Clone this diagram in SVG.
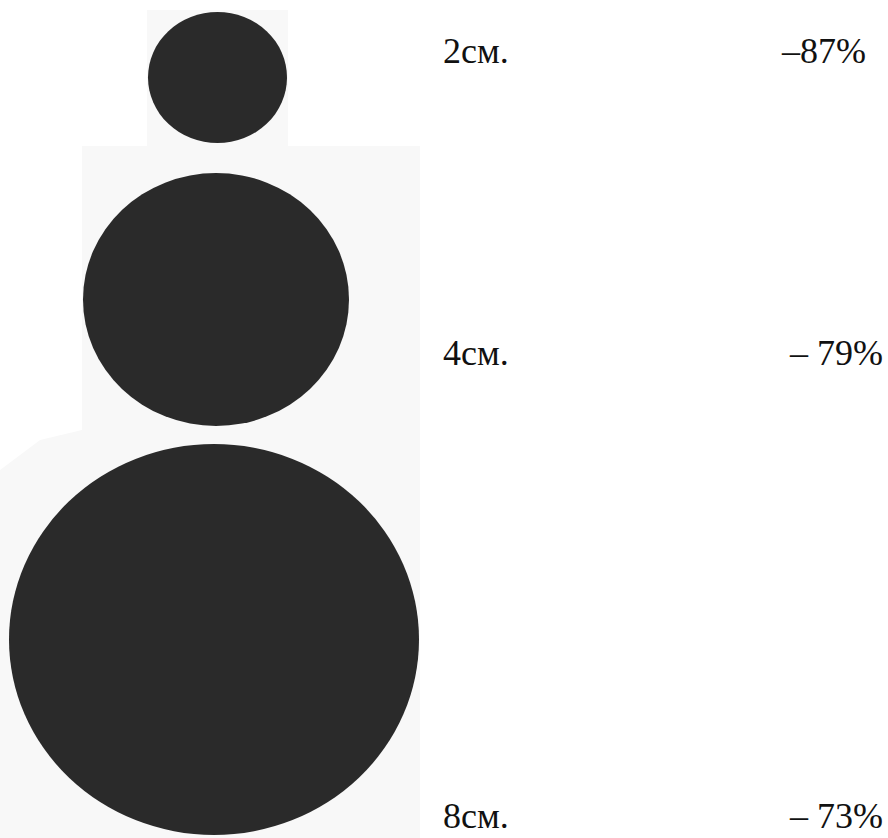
<svg xmlns="http://www.w3.org/2000/svg" width="888" height="838" viewBox="0 0 888 838">
<style>
.dot{fill:#2a2a2a}
.lbl{font-family:"Liberation Serif","Times New Roman",serif;font-size:36px;fill:#111}
.bg{fill:#f8f8f8}
</style>
<rect width="888" height="838" fill="#ffffff"/>
<g id="paper">
<rect class="bg" x="147" y="10" width="141" height="136"/>
<polygon class="bg" points="82,146 420,146 420,838 0,838 0,470 40,440 82,430"/>
</g>
<g id="circle-2cm"><ellipse class="dot" cx="217.5" cy="77.5" rx="69.5" ry="65.5"/></g>
<g id="circle-4cm"><ellipse class="dot" cx="216" cy="299.5" rx="133" ry="126.5"/></g>
<g id="circle-8cm"><ellipse class="dot" cx="214" cy="639.5" rx="205" ry="195.5"/></g>
<g id="labels">
<text class="lbl" x="443" y="63">2см.</text>
<text class="lbl" x="866" y="63" text-anchor="end">–87%</text>
<text class="lbl" x="443" y="365">4см.</text>
<text class="lbl" x="883" y="365" text-anchor="end">– 79%</text>
<text class="lbl" x="443" y="828">8см.</text>
<text class="lbl" x="883" y="828" text-anchor="end">– 73%</text>
</g>
</svg>
